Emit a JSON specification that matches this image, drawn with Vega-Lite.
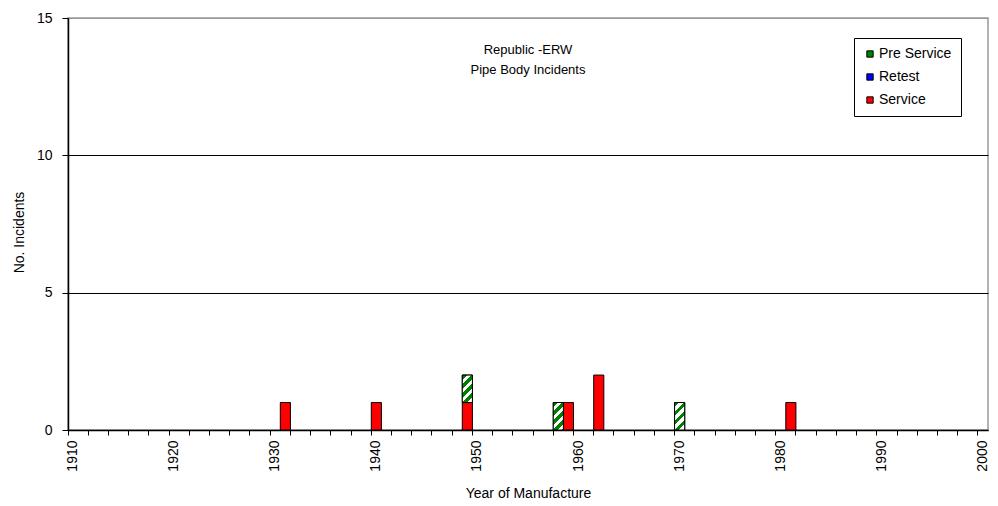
{
  "$schema": "https://vega.github.io/schema/vega-lite/v6.json",
  "autosize": {"type": "none"},
  "width": 920,
  "height": 412,
  "padding": {"left": 68, "top": 18, "right": 10, "bottom": 76},
  "background": "white",
  "title": {
    "text": ["Republic -ERW", "Pipe Body Incidents"],
    "font": "Liberation Sans",
    "fontSize": 13,
    "fontWeight": "normal",
    "color": "black",
    "anchor": "middle",
    "baseline": "top",
    "lineHeight": 20,
    "offset": -26,
    "dy": 40
  },
  "data": {
    "values": [
      {"year": 1931, "type": "Service", "count": 1},
      {"year": 1940, "type": "Service", "count": 1},
      {"year": 1949, "type": "Service", "count": 1},
      {"year": 1949, "type": "Pre Service", "count": 1},
      {"year": 1958, "type": "Pre Service", "count": 1},
      {"year": 1959, "type": "Service", "count": 1},
      {"year": 1962, "type": "Service", "count": 2},
      {"year": 1970, "type": "Pre Service", "count": 1},
      {"year": 1981, "type": "Service", "count": 1}
    ]
  },
  "transform": [
    {"stack": "count", "groupby": ["year"], "sort": [{"field": "type", "order": "descending"}], "as": ["lo", "hi"]}
  ],
  "encoding": {
    "x": {
      "field": "year",
      "type": "ordinal",
      "scale": {
        "type": "band",
        "paddingInner": 0,
        "paddingOuter": 0,
        "domain": [1910,1911,1912,1913,1914,1915,1916,1917,1918,1919,1920,1921,1922,1923,1924,1925,1926,1927,1928,1929,1930,1931,1932,1933,1934,1935,1936,1937,1938,1939,1940,1941,1942,1943,1944,1945,1946,1947,1948,1949,1950,1951,1952,1953,1954,1955,1956,1957,1958,1959,1960,1961,1962,1963,1964,1965,1966,1967,1968,1969,1970,1971,1972,1973,1974,1975,1976,1977,1978,1979,1980,1981,1982,1983,1984,1985,1986,1987,1988,1989,1990,1991,1992,1993,1994,1995,1996,1997,1998,1999,2000]
      },
      "axis": {
        "title": "Year of Manufacture",
        "values": [1910,1912,1914,1916,1918,1920,1922,1924,1926,1928,1930,1932,1934,1936,1938,1940,1942,1944,1946,1948,1950,1952,1954,1956,1958,1960,1962,1964,1966,1968,1970,1972,1974,1976,1978,1980,1982,1984,1986,1988,1990,1992,1994,1996,1998,2000],
        "labelExpr": "datum.value % 10 === 0 ? datum.label : ''",
        "bandPosition": 0,
        "labelAngle": 270,
        "labelOffset": 0,
        "labelOverlap": false,
        "labelBound": false,
        "labelFlush": false,
        "labelPadding": 5,
        "labelFont": "Liberation Sans",
        "labelFontSize": 14,
        "labelColor": "black",
        "tickColor": "black",
        "tickSize": 5,
        "tickWidth": 1,
        "domainColor": "black",
        "domainWidth": 1.5,
        "titleFont": "Liberation Sans",
        "titleFontSize": 14,
        "titleFontWeight": "normal",
        "titleColor": "black",
        "titleY": 63,
        "titleBaseline": "middle"
      }
    },
    "y": {
      "field": "lo",
      "type": "quantitative",
      "scale": {"domain": [0, 15], "nice": false},
      "axis": {
        "title": "No. Incidents",
        "values": [0, 5, 10, 15],
        "grid": true,
        "gridColor": {"condition": {"test": "datum.value === 15", "value": "#999999"}, "value": "black"},
        "gridWidth": 1,
        "gridOpacity": 1,
        "tickColor": "black",
        "tickSize": 6,
        "domainColor": "black",
        "domainWidth": 1.5,
        "labelFont": "Liberation Sans",
        "labelFontSize": 14,
        "labelColor": "black",
        "labelPadding": 10,
        "titleFont": "Liberation Sans",
        "titleFontSize": 14,
        "titleFontWeight": "normal",
        "titleColor": "black",
        "titleAngle": 270,
        "titleX": -49,
        "titleY": 214,
        "titleAlign": "center",
        "titleBaseline": "middle"
      }
    },
    "y2": {"field": "hi"}
  },
  "layer": [
    {
      "mark": {"type": "bar", "stroke": "black", "strokeWidth": 1},
      "encoding": {
        "color": {
          "field": "type",
          "type": "nominal",
          "scale": {"domain": ["Pre Service", "Retest", "Service"], "range": ["#008000", "#0000FF", "#FF0000"]},
          "legend": {
            "title": null,
            "orient": "none",
            "legendX": 786,
            "legendY": 20,
            "strokeColor": "black",
            "fillColor": "white",
            "padding": 9,
            "rowPadding": 9,
            "symbolType": "square",
            "symbolSize": 40,
            "symbolStrokeColor": "black",
            "symbolStrokeWidth": 1,
            "symbolOpacity": 1,
            "labelFont": "Liberation Sans",
            "labelFontSize": 14,
            "labelColor": "black",
            "labelOffset": 2
          }
        }
      }
    },
    {
      "transform": [{"filter": "datum.type === 'Pre Service'"}],
      "mark": {
        "type": "bar",
        "stroke": "black",
        "strokeWidth": 1,
        "fill": {
          "gradient": "linear",
          "x1": 0, "y1": 0, "x2": 0.441, "y2": 1.2,
          "stops": [
            {"offset": 0, "color": "#008000"},
            {"offset": 0.13, "color": "#008000"},
            {"offset": 0.13, "color": "#FFFFFF"},
            {"offset": 0.24, "color": "#FFFFFF"},
            {"offset": 0.24, "color": "#008000"},
            {"offset": 0.37, "color": "#008000"},
            {"offset": 0.37, "color": "#FFFFFF"},
            {"offset": 0.48, "color": "#FFFFFF"},
            {"offset": 0.48, "color": "#008000"},
            {"offset": 0.61, "color": "#008000"},
            {"offset": 0.61, "color": "#FFFFFF"},
            {"offset": 0.72, "color": "#FFFFFF"},
            {"offset": 0.72, "color": "#008000"},
            {"offset": 0.85, "color": "#008000"},
            {"offset": 0.85, "color": "#FFFFFF"},
            {"offset": 0.96, "color": "#FFFFFF"},
            {"offset": 0.96, "color": "#008000"},
            {"offset": 1, "color": "#008000"}
          ]
        }
      },
      "encoding": {}
    }
  ],
  "config": {
    "view": {"stroke": "#999999", "strokeWidth": 1.5},
    "font": "Liberation Sans"
  }
}
